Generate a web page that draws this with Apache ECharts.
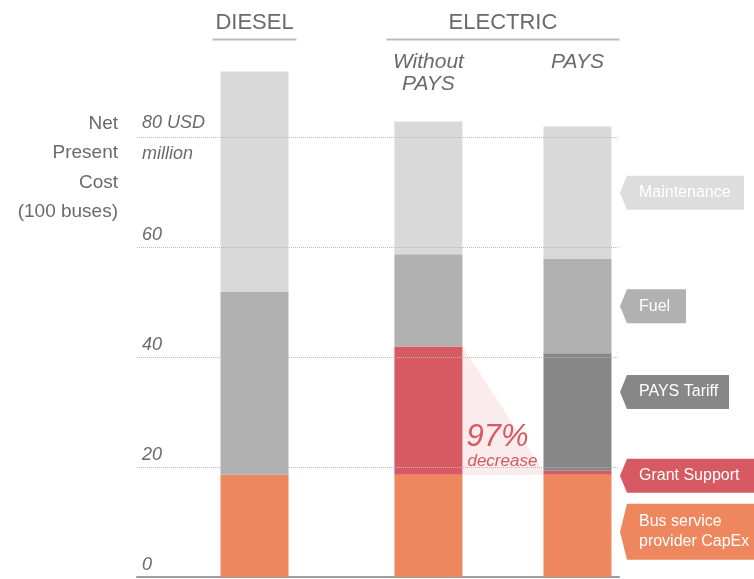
<!DOCTYPE html>
<html><head><meta charset="utf-8">
<script src="https://cdn.jsdelivr.net/npm/echarts@6/dist/echarts.min.js"></script>
<style>html,body{margin:0;padding:0;background:#fff}#c{width:754px;height:579px}</style>
</head><body><div id="c"></div>
<script>
// ---------- data ----------
const categories = ['DIESEL', 'Without\nPAYS', 'PAYS'];
const groupHeaders = ['DIESEL', 'ELECTRIC'];
const groupMembers = [[0], [1, 2]];
const seriesNames = ['Bus service\nprovider CapEx', 'Grant Support', 'PAYS Tariff', 'Fuel', 'Maintenance'];
const capex       = [18.6, 18.6, 18.6];
const grant       = [null, 23.3, 0.7];
const tariff      = [null, null, 21.4];
const fuel        = [33.2, 16.8, 17.1];
const maintenance = [40.1, 24.1, 24.1];
const yTicks = [0, 20, 40, 60, 80];
const yUnit = ['USD', 'million'];
const yAxisTitle = 'Net\nPresent\nCost\n(100 buses)';

// ---------- styling / layout ----------
const FONT = '"Liberation Sans", Arial, sans-serif';
const TXT = '#6a6a6a';
const seriesValues = [capex, grant, tariff, fuel, maintenance];
const barColors = ['#EE865E', '#D75A62', '#878787', '#B1B1B1', '#D9D9D9'];
const tagColors = ['#EE865E', '#D75A62', '#878787', '#B1B1B1', '#DDDDDD'];
const tagW = [136, 134, 109, 66, 124];
const tagH = [56, 34, 34, 34, 34];
const tagDy = [6, 3, -20, 0, 0];
const slotIndex = [0, 7, 13];
const slotCount = 14;
const BAR_W = 68;
const TAG_GAP = 42.5;

const xData = Array.from({length: slotCount}, (_, i) => {
  const k = slotIndex.indexOf(i);
  return k >= 0 ? categories[k] : '';
});
function toSlots(arr) {
  const out = new Array(slotCount).fill(null);
  arr.forEach((v, k) => { out[slotIndex[k]] = v; });
  return out;
}
const tagCat = 2; // PAYS bar carries the legend tags
function cumBelow(si, ci) {
  let s = 0;
  for (let j = 0; j < si; j++) s += seriesValues[j][ci] || 0;
  return s;
}

const chart = echarts.init(document.getElementById('c'), null, {renderer: 'canvas'});

const barSeries = seriesNames.map((name, si) => {
  const w = tagW[si], h = tagH[si], d = 7;
  const mid = cumBelow(si, tagCat) + seriesValues[si][tagCat] / 2;
  return {
    name, type: 'bar', stack: 'npc', xAxisIndex: 0, yAxisIndex: 0, clip: false,
    barWidth: BAR_W, data: toSlots(seriesValues[si]),
    itemStyle: {color: barColors[si]},
    emphasis: {disabled: true},
    markPoint: {
      silent: true,
      data: [{
        coord: [slotIndex[tagCat], mid],
        symbol: `path://M0,${h/2} L${d},0 L${w},0 L${w},${h} L${d},${h} Z`,
        symbolSize: [w, h],
        symbolOffset: [TAG_GAP + w / 2, tagDy[si]],
        itemStyle: {color: tagColors[si]},
        label: {
          show: true, position: 'insideLeft', distance: 19,
          formatter: name, color: '#fff', fontSize: 16, lineHeight: 20,
          fontFamily: FONT, align: 'left'
        }
      }]
    }
  };
});

const g1 = slotIndex[1], g2 = slotIndex[2];
const triangleSeries = {
  type: 'custom', xAxisIndex: 0, yAxisIndex: 0, silent: true, z: 1, clip: false,
  data: [[g1, g2]],
  renderItem: function (params, api) {
    const capTop1 = capex[1], grantTop1 = capex[1] + grant[1];
    const capTop2 = capex[2], grantTop2 = capex[2] + grant[2];
    const a = api.coord([g1, grantTop1]);
    const b = api.coord([g2, grantTop2]);
    const c = api.coord([g2, capTop2]);
    const e = api.coord([g1, capTop1]);
    const xR = a[0] + BAR_W / 2, xL = b[0] - BAR_W / 2;
    const pct = Math.round((1 - grant[2] / grant[1]) * 100);
    return {
      type: 'group',
      children: [
        {type: 'polygon', shape: {points: [[xR, a[1]], [xL, b[1]], [xL, c[1]], [xR, e[1]]]},
         style: {fill: 'rgba(215,90,98,0.12)'}},
        {type: 'text', x: xR + 4, y: e[1] - 37,
         style: {text: pct + '%', fill: '#D75A62', font: 'italic 31px ' + FONT, textVerticalAlign: 'middle'}},
        {type: 'text', x: xR + 5, y: e[1] - 13,
         style: {text: 'decrease', fill: '#D75A62', font: 'italic 17px ' + FONT, textVerticalAlign: 'middle'}}
      ]
    };
  }
};

const gridSeries = {
  type: 'line', xAxisIndex: 1, yAxisIndex: 1, data: [[0, 0]], showSymbol: false, silent: true,
  lineStyle: {width: 0, opacity: 0}, z: 0,
  markLine: {
    silent: true, symbol: 'none', label: {show: false},
    lineStyle: {type: 'dotted', color: '#B8B8B8', width: 1},
    data: yTicks.filter(v => v > 0).map(v => ({yAxis: v}))
  }
};

const topTick = yTicks[yTicks.length - 1];
chart.setOption({
  animation: false,
  grid: [
    {left: 242.1, width: 347.8, top: 27, bottom: 2, containLabel: false, outerBoundsMode: 'none'},
    {left: 137, right: 135, top: 27, bottom: 2, containLabel: false, outerBoundsMode: 'none'}
  ],
  xAxis: [
    {type: 'category', gridIndex: 0, data: xData, position: 'top',
     axisLine: {show: false}, axisTick: {show: false}, splitLine: {show: false},
     axisLabel: {interval: 0, inside: true, margin: 24, verticalAlign: 'top',
       color: TXT, fontStyle: 'italic', fontSize: 21, lineHeight: 22, fontFamily: FONT,
       formatter: v => groupHeaders.includes(v) ? '' : v}},
    {type: 'value', gridIndex: 1, min: 0, max: 1,
     axisLine: {show: true, lineStyle: {color: '#9E9E9E', width: 2}},
     axisTick: {show: false}, axisLabel: {show: false}, splitLine: {show: false}}
  ],
  yAxis: [
    {type: 'value', gridIndex: 0, min: 0, max: 100, show: false},
    {type: 'value', gridIndex: 1, min: 0, max: 100, interval: 20,
     axisLine: {show: false}, axisTick: {show: false}, splitLine: {show: false},
     axisLabel: {inside: true, margin: 5, align: 'left', verticalAlign: 'middle',
       color: TXT, fontStyle: 'italic', fontSize: 18, fontFamily: FONT,
       showMaxLabel: true,
       formatter: v => {
         if (!yTicks.includes(v)) return '';
         if (v === topTick) return `{u|${v} ${yUnit[0]}}\n{m|${yUnit[1]}}`;
         return `{v|${v}}\n{e| }`;
       },
       rich: {u: {lineHeight: 34}, m: {lineHeight: 29}, v: {lineHeight: 24}, e: {lineHeight: 24}}}}
  ],
  series: [gridSeries, triangleSeries].concat(barSeries)
});

// group headers above the bars
const graphics = [];
groupHeaders.forEach((h, gi) => {
  const xs = groupMembers[gi].map(k => chart.convertToPixel({xAxisIndex: 0}, slotIndex[k]));
  const x0 = Math.min(...xs) - 42, x1 = Math.max(...xs) + 42;
  graphics.push({type: 'text', x: (x0 + x1) / 2, y: 23,
    style: {text: h, fill: TXT, font: '22px ' + FONT, textAlign: 'center', textVerticalAlign: 'middle'}});
  graphics.push({type: 'line', shape: {x1: x0, y1: 39.5, x2: x1, y2: 39.5},
    style: {stroke: '#BDBDBD', lineWidth: 2}});
});
graphics.push({type: 'text', x: 118, y: 109,
  style: {text: yAxisTitle, fill: TXT, font: '19px ' + FONT, textAlign: 'right', lineHeight: 29.5}});
chart.setOption({graphic: graphics});
</script></body></html>
